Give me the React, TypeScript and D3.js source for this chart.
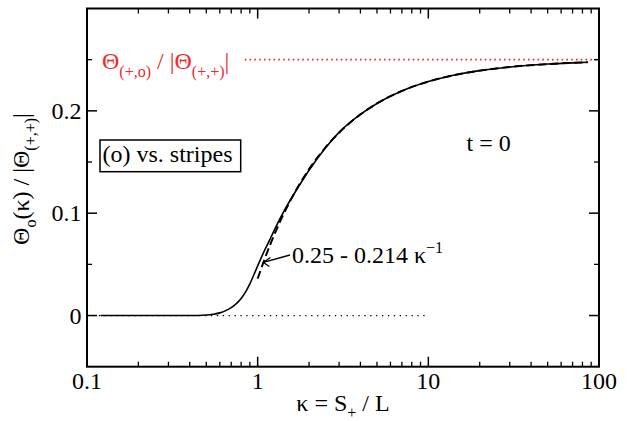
import React from "react";
import * as d3 from "d3";

// Solid curve: Θ_o(κ)/|Θ(+,+)| for (o) vs. stripes at t = 0
const kappaValues = [0.12, 0.2, 0.3, 0.4, 0.5, 0.55, 0.6, 0.65, 0.7, 0.75, 0.8, 0.85, 0.9, 0.95, 1.0, 1.1, 1.2, 1.3, 1.4, 1.5, 1.7, 2, 2.5, 3, 4, 5, 7, 10, 15, 20, 30, 50, 70, 86];
const thetaValues = [0, 0, 0, 0, 0.0005, 0.0013, 0.0026, 0.0048, 0.0078, 0.0117, 0.0167, 0.0232, 0.031, 0.0398, 0.0485, 0.064, 0.077, 0.089, 0.0995, 0.1085, 0.1235, 0.142, 0.164, 0.179, 0.1965, 0.2072, 0.2194, 0.2286, 0.2357, 0.2393, 0.2429, 0.2457, 0.2469, 0.2475];

// Large-κ asymptote 0.25 - 0.214 κ^-1 (dashed)
const asymLimit = 0.25;
const asymCoeff = 0.214;
const asymKappa = [1.0, 1.1, 1.2, 1.35, 1.5, 1.75, 2, 2.5, 3, 4, 5, 7, 10, 15, 20, 30, 50, 70, 86];

// Reference levels
const redLevel = 0.25;
const redLineStartKappa = 0.84;
const zeroLineEndKappa = 10;
const annotationKappa = 1.08;

// Axes
const xDomain = [0.1, 100];
const yDomain = [-0.05, 0.3];
const xMajorTicks = [0.1, 1, 10, 100];
const xTickLabels = ["0.1", "1", "10", "100"];
const yMajorTicks = [0, 0.1, 0.2];
const yTickLabels = ["0", "0.1", "0.2"];
const yMinorTicks = [0.05, 0.15, 0.25];

const W = 643;
const H = 421;
const RED = "#ee2a2a";
const textStyle = { fontFamily: "Times New Roman", fontSize: "24px" };

export default function App() {
  const left = 87, right = 599, top = 8.5, bottom = 366.7;
  const x = d3.scaleLog().domain(xDomain).range([left, right]);
  const y = d3.scaleLinear().domain(yDomain).range([bottom, top]);

  const xMinor: number[] = [];
  for (let dec = 0.1; dec < 100; dec *= 10) {
    for (let m = 2; m <= 9; m++) xMinor.push(+(dec * m).toPrecision(3));
  }

  const line = d3
    .line<[number, number]>()
    .x((d) => x(d[0]))
    .y((d) => y(d[1]))
    .curve(d3.curveMonotoneX);

  const solid = line(kappaValues.map((k, i) => [k, thetaValues[i]] as [number, number])) || "";
  const asym = (k: number) => asymLimit - asymCoeff / k;
  const dashed = line(asymKappa.map((k) => [k, asym(k)] as [number, number])) || "";

  const maj = 10, min = 5;
  const tipX = x(annotationKappa);
  const tipY = y(asym(annotationKappa));

  return (
    <svg width={W} height={H} style={{ position: "absolute", left: 0, top: 0, background: "#fff" }}>
      {/* reference lines */}
      <line x1={x(redLineStartKappa)} x2={right} y1={y(redLevel)} y2={y(redLevel)} stroke={RED} strokeWidth={1.6} strokeDasharray="1.6 3.2" />
      <line x1={left} x2={x(zeroLineEndKappa)} y1={y(0)} y2={y(0)} stroke="#000" strokeWidth={1.3} strokeDasharray="1.3 4.6" />

      {/* curves */}
      <path d={dashed} fill="none" stroke="#000" strokeWidth={2} strokeDasharray="8 4" />
      <path d={solid} fill="none" stroke="#000" strokeWidth={1.6} />

      {/* frame */}
      <rect x={left} y={top} width={right - left} height={bottom - top} fill="none" stroke="#000" strokeWidth={2} />

      {/* x ticks */}
      {xMajorTicks.map((t) => (
        <g key={"xM" + t}>
          <line x1={x(t)} x2={x(t)} y1={bottom} y2={bottom - maj} stroke="#000" strokeWidth={1.5} />
          <line x1={x(t)} x2={x(t)} y1={top} y2={top + maj} stroke="#000" strokeWidth={1.5} />
        </g>
      ))}
      {xMinor.map((t) => (
        <g key={"xm" + t}>
          <line x1={x(t)} x2={x(t)} y1={bottom} y2={bottom - min} stroke="#000" strokeWidth={1.3} />
          <line x1={x(t)} x2={x(t)} y1={top} y2={top + min} stroke="#000" strokeWidth={1.3} />
        </g>
      ))}
      {xMajorTicks.map((t, i) => (
        <text key={"xl" + t} x={x(t)} y={389} style={textStyle} textAnchor="middle">
          {xTickLabels[i]}
        </text>
      ))}

      {/* y ticks */}
      {yMajorTicks.map((t) => (
        <g key={"yM" + t}>
          <line x1={left} x2={left + maj} y1={y(t)} y2={y(t)} stroke="#000" strokeWidth={1.5} />
          <line x1={right} x2={right - maj} y1={y(t)} y2={y(t)} stroke="#000" strokeWidth={1.5} />
        </g>
      ))}
      {yMinorTicks.map((t) => (
        <g key={"ym" + t}>
          <line x1={left} x2={left + min} y1={y(t)} y2={y(t)} stroke="#000" strokeWidth={1.3} />
          <line x1={right} x2={right - min} y1={y(t)} y2={y(t)} stroke="#000" strokeWidth={1.3} />
        </g>
      ))}
      {yMajorTicks.map((t, i) => (
        <text key={"yl" + t} x={81.5} y={y(t) + 8} style={textStyle} textAnchor="end">
          {yTickLabels[i]}
        </text>
      ))}

      {/* axis titles */}
      <text x={343} y={411} style={textStyle} textAnchor="middle">
        κ = S<tspan fontSize={16} dy={7}>+</tspan>
        <tspan dy={-7}> / L</tspan>
      </text>
      <text transform="translate(29,179) rotate(-90)" style={textStyle} textAnchor="middle">
        Θ<tspan fontSize={16} dy={7}>o</tspan>
        <tspan dy={-7}>(κ) / |Θ</tspan>
        <tspan fontSize={16} dy={7}>(+,+)</tspan>
        <tspan dy={-7}>|</tspan>
      </text>

      {/* red reference label */}
      <text x={102} y={68.5} style={textStyle} fill={RED}>
        Θ<tspan fontSize={16} dy={8}>(+,o)</tspan>
        <tspan dy={-8}> / |Θ</tspan>
        <tspan fontSize={16} dy={8}>(+,+)</tspan>
        <tspan dy={-8}>|</tspan>
      </text>

      {/* boxed label */}
      <rect x={100} y={140} width={140.7} height={31.7} fill="#fff" stroke="#000" strokeWidth={1.5} />
      <text x={102.5} y={162} style={textStyle}>
        (o) vs. stripes
      </text>

      <text x={466.5} y={151} style={textStyle}>
        t = 0
      </text>

      {/* asymptote annotation */}
      <line x1={tipX} y1={tipY} x2={290} y2={255} stroke="#000" strokeWidth={1.3} />
      <path d={`M${tipX + 7},${tipY - 5} L${tipX},${tipY} L${tipX + 6},${tipY + 4}`} fill="none" stroke="#000" strokeWidth={1.3} />
      <text x={292} y={263} style={textStyle}>
        0.25 - 0.214 κ<tspan fontSize={16} dy={-10}>−1</tspan>
      </text>
    </svg>
  );
}
